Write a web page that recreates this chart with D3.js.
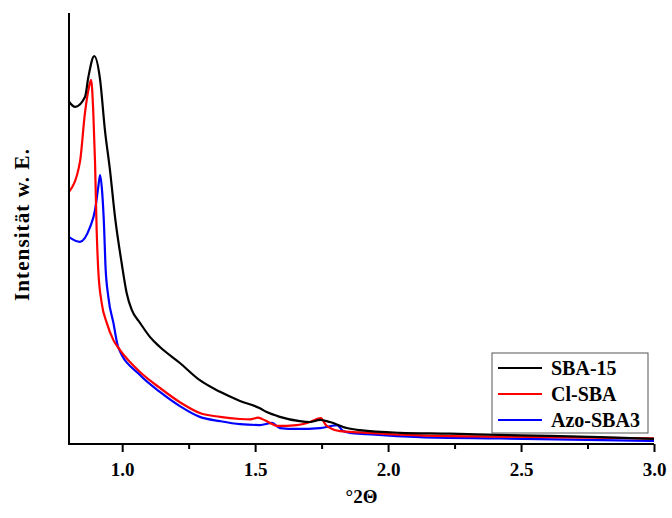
<!DOCTYPE html>
<html>
<head>
<meta charset="utf-8">
<script src="https://cdn.jsdelivr.net/npm/d3@7"></script>
<style>
  html, body { margin: 0; padding: 0; background: #fff; }
  svg { display: block; }
  text { font-family: "Liberation Serif", "Times New Roman", serif; font-weight: bold; }
</style>
</head>
<body>
<svg id="chart" width="672" height="518"></svg>
<script>
// ---- data (arbitrary intensity units) ----
const sbaX = [0.800,0.823,0.860,0.873,0.895,0.917,0.935,0.954,0.973,0.998,1.017,1.036,1.067,1.105,1.142,1.217,1.292,1.368,1.443,1.518,1.544,1.593,1.668,1.706,1.744,1.781,1.845,1.894,2.044,2.232,2.420,2.608,2.796,3.000];
const sbaY = [79.4,78.2,80.5,85.2,90.0,84.5,72.9,63.6,52.7,42.0,35.0,31.1,28.1,24.8,22.5,18.8,14.8,12.1,10.0,8.3,7.4,6.3,5.3,5.1,5.6,5.1,3.7,3.2,2.6,2.4,2.1,1.9,1.6,1.2];

const clX = [0.800,0.841,0.860,0.873,0.883,0.891,0.898,0.904,0.910,0.923,0.942,0.967,0.992,1.067,1.142,1.217,1.292,1.368,1.443,1.481,1.511,1.526,1.556,1.582,1.657,1.706,1.747,1.766,1.789,1.819,1.894,2.120,2.420,3.000];
const clY = [58.5,65.4,76.8,82.1,84.5,77.5,65.2,49.7,40.4,32.7,28.1,24.1,21.8,16.7,13.0,9.7,7.2,6.3,5.8,5.7,6.1,5.8,4.9,4.2,4.4,5.1,6.0,4.4,3.5,3.0,2.7,2.0,1.7,1.3];

const azoX = [0.800,0.841,0.879,0.898,0.910,0.917,0.925,0.932,0.937,0.948,0.967,0.985,1.067,1.142,1.217,1.292,1.368,1.443,1.518,1.564,1.593,1.657,1.744,1.781,1.808,1.831,1.856,1.920,2.120,2.420,3.000];
const azoY = [48.0,46.9,50.3,54.3,59.6,62.4,58.2,50.3,41.5,34.1,28.1,22.5,16.0,12.1,8.8,6.3,5.3,4.6,4.4,4.9,3.7,3.5,3.7,4.1,4.4,3.0,2.6,2.3,1.6,1.3,0.7];

const seriesNames = ["SBA-15", "Cl-SBA", "Azo-SBA3"];
const seriesColors = ["#000000", "#ff0000", "#0000ff"];
const majorTicks = [1.0, 1.5, 2.0, 2.5, 3.0];
const minorTicks = [1.25, 1.75, 2.25, 2.75];
const xTitle = "°2Θ";
const yTitle = "Intensität w. E.";

// ---- layout ----
const svg = d3.select("#chart");
const mLeft = 69, mRight = 654, mTop = 13, mBottom = 444;

const x = d3.scaleLinear().domain([0.8, 3.0]).range([mLeft, mRight]);
const y = d3.scaleLinear().domain([0, 100]).range([mBottom, mTop]);

const series = [
  { name: seriesNames[0], color: seriesColors[0], xs: sbaX, ys: sbaY },
  { name: seriesNames[1], color: seriesColors[1], xs: clX, ys: clY },
  { name: seriesNames[2], color: seriesColors[2], xs: azoX, ys: azoY }
];

const line = d3.line()
  .x(d => x(d[0]))
  .y(d => y(d[1]))
  .curve(d3.curveMonotoneX);

series.slice().reverse().forEach(s => {
  const pts = s.xs.map((v, i) => [v, s.ys[i]]);
  svg.append("path")
    .datum(pts)
    .attr("fill", "none")
    .attr("stroke", s.color)
    .attr("stroke-width", 2.2)
    .attr("stroke-linejoin", "round")
    .attr("d", line);
});

// x axis (major ticks with labels)
const xAxis = d3.axisBottom(x)
  .tickValues(majorTicks)
  .tickFormat(d3.format(".1f"))
  .tickSize(8)
  .tickSizeOuter(0);
const gx = svg.append("g")
  .attr("transform", `translate(0,${mBottom})`)
  .call(xAxis);
gx.select(".domain").remove();
gx.selectAll(".tick line").attr("stroke", "#000").attr("stroke-width", 2);
gx.selectAll(".tick text")
  .attr("fill", "#000")
  .attr("font-size", 19)
  .attr("font-family", "Liberation Serif, serif")
  .attr("font-weight", "bold")
  .attr("dy", null)
  .attr("y", 32);

// minor ticks
const xMinor = d3.axisBottom(x).tickValues(minorTicks).tickFormat("").tickSize(5).tickSizeOuter(0);
const gxm = svg.append("g").attr("transform", `translate(0,${mBottom})`).call(xMinor);
gxm.select(".domain").remove();
gxm.selectAll(".tick line").attr("stroke", "#000").attr("stroke-width", 2);

// axis lines
svg.append("line").attr("x1", mLeft).attr("x2", mRight).attr("y1", mBottom).attr("y2", mBottom)
  .attr("stroke", "#000").attr("stroke-width", 2);
svg.append("line").attr("x1", mLeft).attr("x2", mLeft).attr("y1", mTop).attr("y2", mBottom + 1)
  .attr("stroke", "#000").attr("stroke-width", 2);

// axis titles
svg.append("text")
  .attr("x", (mLeft + mRight) / 2)
  .attr("y", 503)
  .attr("text-anchor", "middle")
  .attr("font-size", 19)
  .text(xTitle);

svg.append("text")
  .attr("transform", `translate(29,${(mTop + mBottom) / 2 - 4}) rotate(-90)`)
  .attr("text-anchor", "middle")
  .attr("font-size", 21)
  .attr("letter-spacing", 1.1)
  .text(yTitle);

// legend
const lg = svg.append("g");
lg.append("rect")
  .attr("x", 492).attr("y", 353).attr("width", 156).attr("height", 80)
  .attr("fill", "#fff").attr("stroke", "#555").attr("stroke-width", 1);
series.forEach((s, i) => {
  const ly = 368 + i * 26;
  lg.append("line")
    .attr("x1", 498).attr("x2", 542).attr("y1", ly).attr("y2", ly)
    .attr("stroke", s.color).attr("stroke-width", 2);
  lg.append("text")
    .attr("x", 551).attr("y", ly + 7)
    .attr("font-size", 20)
    .text(s.name);
});
</script>
</body>
</html>
